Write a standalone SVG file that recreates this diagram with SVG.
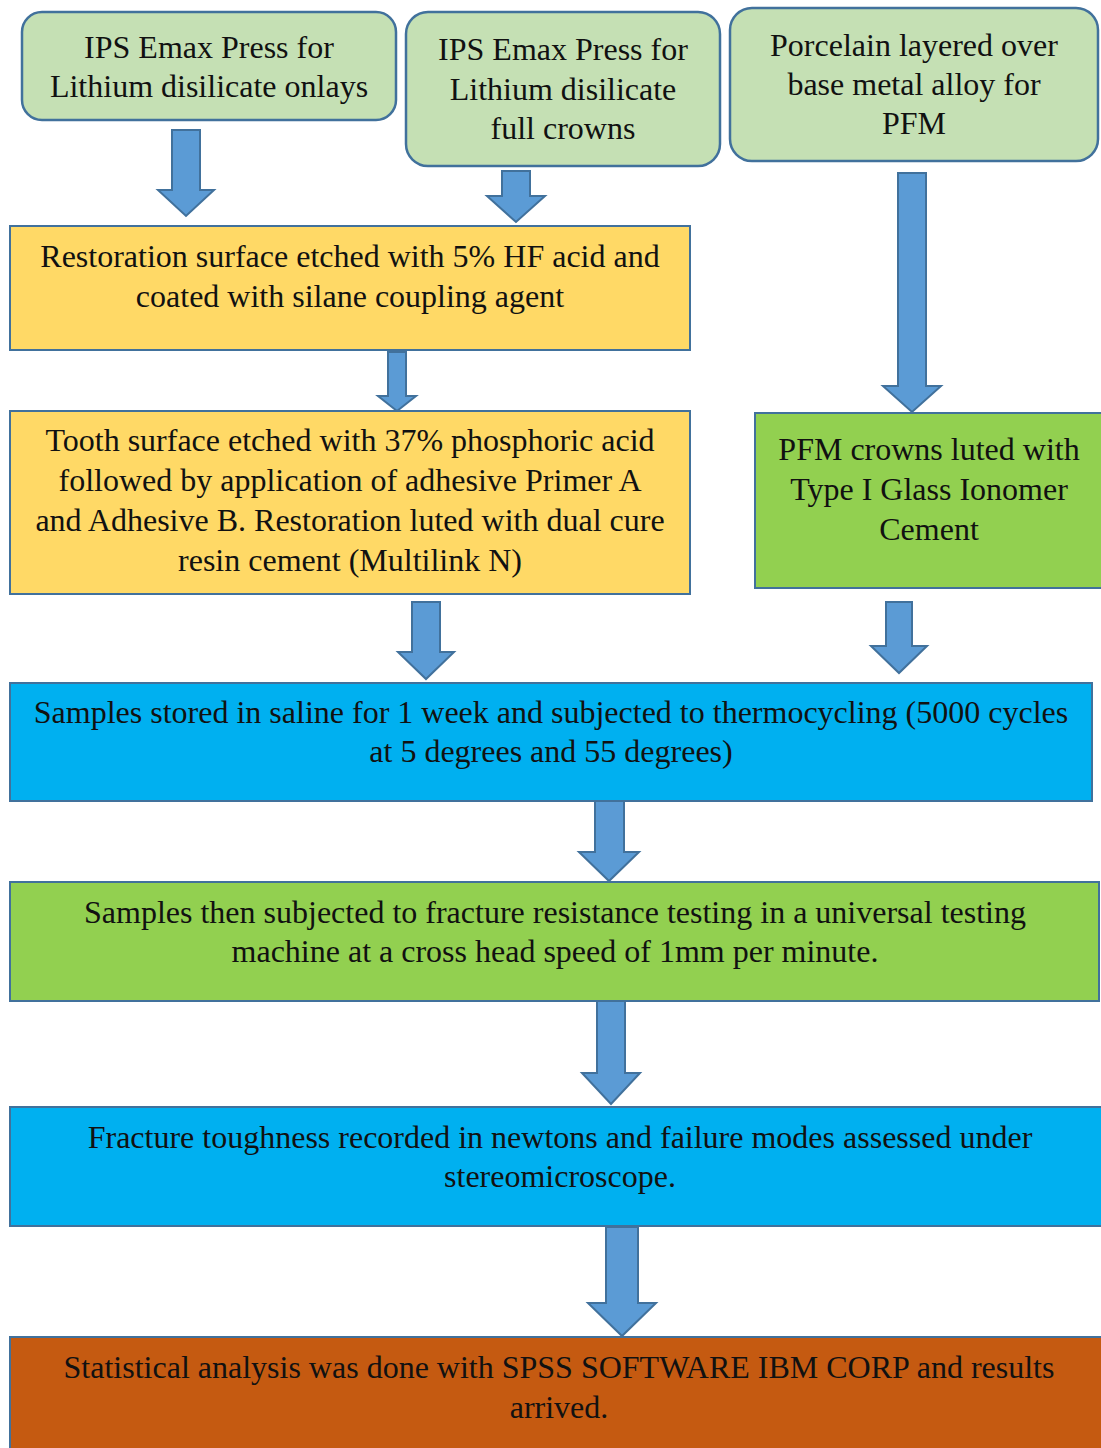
<svg xmlns="http://www.w3.org/2000/svg" width="1101" height="1448" viewBox="0 0 1101 1448">
<style>
  .t { font-family: "Liberation Serif", "Times New Roman", serif; font-size: 32px; fill: #111; text-anchor: middle; }
  .rnd { fill: #C5E0B4; stroke: #41719C; stroke-width: 2.5; }
  .yel { fill: #FFD966; stroke: #41719C; stroke-width: 2; }
  .grn { fill: #92D050; stroke: #41719C; stroke-width: 2; }
  .blu { fill: #00B0F0; stroke: #41719C; stroke-width: 2; }
  .org { fill: #C55A11; stroke: #41719C; stroke-width: 2; }
  .arr { fill: #5B9BD5; stroke: #41719C; stroke-width: 2; stroke-linejoin: miter; }
</style>
<rect width="1101" height="1448" fill="#fff"/>
<g id="connectors">
  <path class="arr" d="M172,130 H200 V190 H214 L186,216 L158,190 H172 Z"/>
  <path class="arr" d="M502,171 H530 V196 H545 L516,222 L487,196 H502 Z"/>
  <path class="arr" d="M898,173 H926 V386 H941 L912,412 L883,386 H898 Z"/>
  <path class="arr" d="M388,352 H406 V396 H416 L397,411 L378,396 H388 Z"/>
  <path class="arr" d="M412,602 H440 V652 H454 L426,679 L398,652 H412 Z"/>
  <path class="arr" d="M886,602 H912 V646 H927 L899,673 L871,646 H886 Z"/>
  <path class="arr" d="M595,801 H624 V852 H639 L609,881 L579,852 H595 Z"/>
  <path class="arr" d="M597,999 H625 V1073 H640 L611,1104 L582,1073 H597 Z"/>
  <path class="arr" d="M606,1227 H638 V1303 H656 L622,1336 L588,1303 H606 Z"/>
</g>
<g id="n1">
  <rect class="rnd" x="22" y="12" width="374" height="108" rx="20"/>
  <text class="t" x="209" y="58">IPS Emax Press for</text>
  <text class="t" x="209" y="97">Lithium disilicate onlays</text>
</g>
<g id="n2">
  <rect class="rnd" x="406" y="12" width="314" height="154" rx="22"/>
  <text class="t" x="563" y="60">IPS Emax Press for</text>
  <text class="t" x="563" y="100">Lithium disilicate</text>
  <text class="t" x="563" y="139">full crowns</text>
</g>
<g id="n3">
  <rect class="rnd" x="730" y="8" width="368" height="153" rx="22"/>
  <text class="t" x="914" y="56">Porcelain layered over</text>
  <text class="t" x="914" y="95">base metal alloy for</text>
  <text class="t" x="914" y="134">PFM</text>
</g>
<g id="n4">
  <rect class="yel" x="10" y="226" width="680" height="124"/>
  <text class="t" x="350" y="267">Restoration surface etched with 5% HF acid and</text>
  <text class="t" x="350" y="307">coated with silane coupling agent</text>
</g>
<g id="n5">
  <rect class="yel" x="10" y="411" width="680" height="183"/>
  <text class="t" x="350" y="451">Tooth surface etched with 37% phosphoric acid</text>
  <text class="t" x="350" y="491">followed by application of adhesive Primer A</text>
  <text class="t" x="350" y="531">and Adhesive B. Restoration luted with dual cure</text>
  <text class="t" x="350" y="571">resin cement (Multilink N)</text>
</g>
<g id="n6">
  <rect class="grn" x="755" y="413" width="350" height="175"/>
  <text class="t" x="929" y="460">PFM crowns luted with</text>
  <text class="t" x="929" y="500">Type I Glass Ionomer</text>
  <text class="t" x="929" y="540">Cement</text>
</g>
<g id="n7">
  <rect class="blu" x="10" y="683" width="1082" height="118"/>
  <text class="t" x="551" y="723">Samples stored in saline for 1 week and subjected to thermocycling (5000 cycles</text>
  <text class="t" x="551" y="762">at 5 degrees and 55 degrees)</text>
</g>
<g id="n8">
  <rect class="grn" x="10" y="882" width="1089" height="119"/>
  <text class="t" x="555" y="923">Samples then subjected to fracture resistance testing in a universal testing</text>
  <text class="t" x="555" y="962">machine at a cross head speed of 1mm per minute.</text>
</g>
<g id="n9">
  <rect class="blu" x="10" y="1107" width="1100" height="119"/>
  <text class="t" x="560" y="1148">Fracture toughness recorded in newtons and failure modes assessed under</text>
  <text class="t" x="560" y="1187">stereomicroscope.</text>
</g>
<g id="n10">
  <rect class="org" x="10" y="1337" width="1100" height="130"/>
  <text class="t" x="559" y="1378">Statistical analysis was done with SPSS SOFTWARE IBM CORP and results</text>
  <text class="t" x="559" y="1418">arrived.</text>
</g>
</svg>
